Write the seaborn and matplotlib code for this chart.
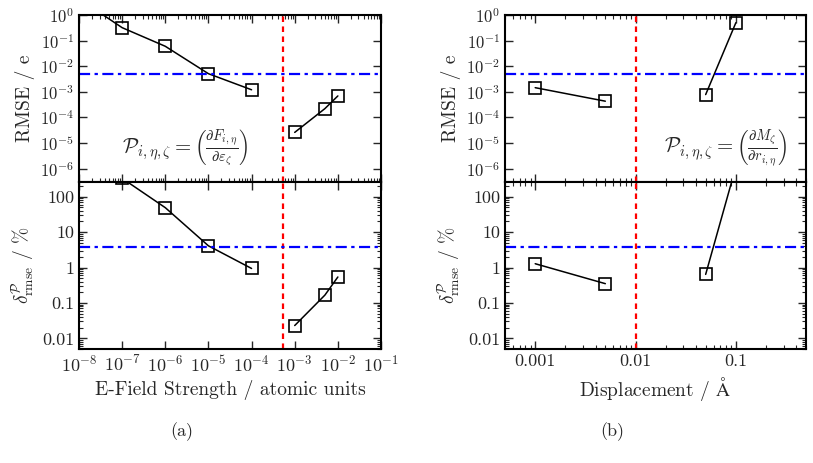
import numpy as np
import pandas as pd
import matplotlib
matplotlib.use('Agg')
import matplotlib.pyplot as plt
import matplotlib.ticker as mticker
import seaborn as sns

# E-field series (left column)
field_x = [1e-8, 1e-7, 1e-6, 1e-5, 1e-4, 1e-3, 5e-3, 1e-2]
field_seg = [0, 0, 0, 0, 0, 1, 1, 1]
field_rmse = [4.3, 0.32, 0.06, 0.0051, 0.0012, 2.6e-5, 2.2e-4, 6.9e-4]
field_delta = [3000, 330, 49, 4.1, 0.94, 0.023, 0.166, 0.54]

# displacement series (right column)
disp_x = [0.001, 0.005, 0.05, 0.1]
disp_seg = [0, 0, 1, 1]
disp_rmse = [1.45e-3, 4.3e-4, 7.8e-4, 0.5]
disp_delta = [1.28, 0.35, 0.64, 700]

rmse_thresh = 0.005
delta_thresh = 3.85
field_cut = 5.4e-4
disp_cut = 0.01

sns.set_theme(style='ticks')
plt.rcParams['font.family'] = 'serif'
plt.rcParams['font.serif'] = ['cmr10', 'DejaVu Serif']
plt.rcParams['mathtext.fontset'] = 'cm'
plt.rcParams['axes.formatter.use_mathtext'] = True
plt.rcParams['axes.linewidth'] = 1.5

fig = plt.figure(figsize=(8.13, 4.63), dpi=100)
W, H = 813, 463


def box(x0, x1, y0, y1):
    return [x0 / W, 1 - y1 / H, (x1 - x0) / W, (y1 - y0) / H]


ax_lt = fig.add_axes(box(79, 381, 15, 182))
ax_lb = fig.add_axes(box(79, 381, 182, 349))
ax_rt = fig.add_axes(box(505, 806, 15, 182))
ax_rb = fig.add_axes(box(505, 806, 182, 349))

field_df = pd.DataFrame({'x': field_x, 'seg': field_seg, 'rmse': field_rmse, 'delta': field_delta})
disp_df = pd.DataFrame({'x': disp_x, 'seg': disp_seg, 'rmse': disp_rmse, 'delta': disp_delta})

numfmt = mticker.FuncFormatter(lambda v, p: '%g' % v)

panels = [
    (ax_lt, field_df, 'rmse', field_cut, rmse_thresh),
    (ax_lb, field_df, 'delta', field_cut, delta_thresh),
    (ax_rt, disp_df, 'rmse', disp_cut, rmse_thresh),
    (ax_rb, disp_df, 'delta', disp_cut, delta_thresh),
]
for ax, df, col, cut, th in panels:
    sns.lineplot(data=df, x='x', y=col, units='seg', estimator=None, ax=ax,
                 color='black', linewidth=1.1, marker='s', markersize=8,
                 markerfacecolor='none', markeredgecolor='black', markeredgewidth=1.2)
    ax.axvline(cut, color='red', linestyle=(0, (2.5, 2)), linewidth=1.6)
    ax.axhline(th, color='blue', linestyle=(0, (5, 2, 1.5, 2)), linewidth=1.6)
    ax.set_xscale('log')
    ax.set_yscale('log')
    ax.tick_params(which='both', direction='in', top=True, right=True, labelsize=12)
    ax.tick_params(which='major', length=6, width=1.0)
    ax.tick_params(which='minor', length=3, width=0.8)
    for s in ax.spines.values():
        s.set_color('black')

for ax in (ax_lt, ax_lb):
    ax.set_xlim(1e-8, 1e-1)
    ax.xaxis.set_major_locator(mticker.LogLocator(base=10, numticks=20))
ax_lt.xaxis.set_minor_locator(mticker.LogLocator(base=10, subs=np.arange(2, 10), numticks=20))
ax_lb.xaxis.set_minor_locator(mticker.NullLocator())
ax_lb.tick_params(axis='x', labelsize=13)

for ax in (ax_rt, ax_rb):
    ax.set_xlim(5e-4, 0.5)
    ax.xaxis.set_major_locator(mticker.FixedLocator([0.001, 0.01, 0.1]))
    ax.xaxis.set_minor_locator(mticker.LogLocator(base=10, subs=np.arange(2, 10), numticks=20))
    ax.xaxis.set_major_formatter(numfmt)
ax_rb.tick_params(axis='x', labelsize=13)

for ax in (ax_lt, ax_rt):
    ax.set_ylim(3e-7, 1)
    ax.yaxis.set_major_locator(mticker.LogLocator(base=10, numticks=20))
    ax.yaxis.set_minor_locator(mticker.NullLocator())
    ax.tick_params(axis='x', labelbottom=False)
    ax.set_xlabel('')
    ax.set_ylabel('RMSE / e', fontsize=14, labelpad=4)

for ax in (ax_lb, ax_rb):
    ax.set_ylim(0.005, 260)
    ax.yaxis.set_major_locator(mticker.FixedLocator([0.01, 0.1, 1, 10, 100]))
    ax.yaxis.set_minor_locator(mticker.LogLocator(base=10, subs=np.arange(2, 10), numticks=20))
    ax.yaxis.set_major_formatter(numfmt)
    ax.tick_params(axis='y', labelsize=13)
    ax.set_ylabel(r'$\delta^{\mathcal{P}}_{\mathrm{rmse}}$ / %', fontsize=14, labelpad=4)

ax_lb.set_xlabel('E-Field Strength / atomic units', fontsize=14)
ax_rb.set_xlabel(r'Displacement / $\mathrm{\AA}$', fontsize=14)

ax_lt.text(0.35, 0.2, r'$\mathcal{P}_{i,\eta,\zeta}=\left(\frac{\partial F_{i,\eta}}{\partial \varepsilon_\zeta}\right)$',
           transform=ax_lt.transAxes, ha='center', va='center', fontsize=15)
ax_rt.text(0.94, 0.2, r'$\mathcal{P}_{i,\eta,\zeta}=\left(\frac{\partial M_{\zeta}}{\partial r_{i,\eta}}\right)$',
           transform=ax_rt.transAxes, ha='right', va='center', fontsize=15)

fig.text(182 / W, 1 - 432 / H, '(a)', ha='center', va='center', fontsize=13)
fig.text(612 / W, 1 - 432 / H, '(b)', ha='center', va='center', fontsize=13)

for ax in (ax_lt, ax_lb, ax_rt, ax_rb):
    leg = ax.get_legend()
    if leg is not None:
        leg.remove()

fig.savefig('out.png', dpi=100)
